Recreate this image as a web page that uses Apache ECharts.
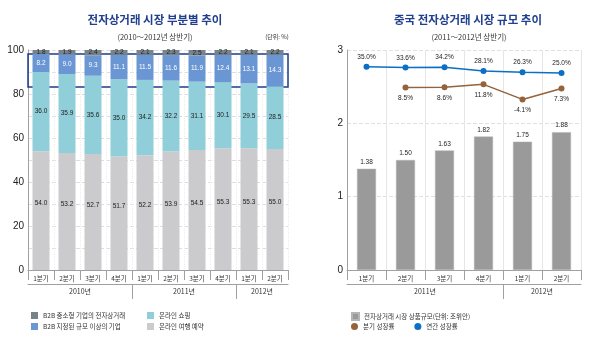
<!DOCTYPE html>
<html>
<head>
<meta charset="utf-8">
<script src="https://cdn.jsdelivr.net/npm/echarts@6/dist/echarts.min.js"></script>
<style>html,body{margin:0;padding:0;background:#fff}#c{width:600px;height:339px}</style>
</head>
<body>
<div id="c"></div>
<script>
// ---- Left chart data ----
const quarterLabelsL = ['1분기','2분기','3분기','4분기','1분기','2분기','3분기','4분기','1분기','2분기'];
const yearsL = ['2010년','2011년','2012년'];
const yearSpansL = [4, 4, 2];
const b2bSmall = [1.8, 1.9, 2.4, 2.2, 2.1, 2.3, 2.5, 2.2, 2.1, 2.2];
const b2bLarge = [8.2, 9.0, 9.3, 11.1, 11.5, 11.6, 11.9, 12.4, 13.1, 14.3];
const onlineShop = [36.0, 35.9, 35.6, 35.0, 34.2, 32.2, 31.1, 30.1, 29.5, 28.5];
const onlineTravel = [54.0, 53.2, 52.7, 51.7, 52.2, 53.9, 54.5, 55.3, 55.3, 55.0];
const highlightRange = [83.2, 98.2];

// ---- Right chart data ----
const quarterLabelsR = ['1분기','2분기','3분기','4분기','1분기','2분기'];
const yearsR = ['2011년','2012년'];
const yearSpansR = [4, 2];
const marketSize = [1.38, 1.50, 1.63, 1.82, 1.75, 1.88];
const quarterGrowth = [null, 8.5, 8.6, 11.8, -4.1, 7.3];
const annualGrowth = [35.0, 33.6, 34.2, 28.1, 26.3, 25.0];

const FONT = "'Noto Sans CJK KR', 'Noto Sans', sans-serif";
const NUMFONT = "'Liberation Sans Narrow', 'Liberation Sans', sans-serif";
const C_SMALL = '#76838a', C_LARGE = '#6b96d4', C_SHOP = '#90cfd9', C_TRAVEL = '#cbcbcd';
const C_BAR = '#9a9a9a', C_BLUE = '#0b6fc4', C_BROWN = '#94623b';

function yearAxis(gridIndex, years, spans) {
  const total = spans.reduce((a, b) => a + b, 0);
  const bounds = [], mids = [];
  let acc = 0;
  spans.forEach((s, i) => { mids.push(acc + s / 2); acc += s; if (i < spans.length - 1) bounds.push(acc); });
  return {
    type: 'value', gridIndex, min: 0, max: total, position: 'bottom', offset: 14,
    axisLine: { show: true, onZero: false, lineStyle: { color: '#a0a0a0', width: 1 } },
    axisTick: { show: true, customValues: bounds, length: 15, lineStyle: { color: '#a0a0a0' } },
    axisLabel: { customValues: mids, formatter: v => years[mids.indexOf(v)], fontSize: 7, color: '#333', margin: 4, fontFamily: FONT },
    splitLine: { show: false }
  };
}
function quarterAxis(gridIndex, labels, vertColor, vertType) {
  return {
    type: 'category', gridIndex, data: labels, position: 'bottom',
    axisLine: { show: true, onZero: false, lineStyle: { color: '#a0a0a0' } },
    axisTick: { show: true, interval: 0, length: 10, lineStyle: { color: '#a0a0a0' } },
    axisLabel: { interval: 0, fontSize: 6.5, color: '#333', margin: 5, fontFamily: FONT },
    splitLine: { show: true, interval: 0, lineStyle: { color: vertColor, type: vertType } }
  };
}
const segLabel = (color) => ({ show: true, position: 'inside', fontSize: 6.5, color, fontFamily: NUMFONT, formatter: p => p.value.toFixed(1) });

const chart = echarts.init(document.getElementById('c'), null, { renderer: 'canvas' });
chart.setOption({
  animation: false,
  backgroundColor: '#fff',
  title: [
    { text: '전자상거래 시장 부분별 추이', left: 150, top: 9, textAlign: 'center', textStyle: { fontSize: 11.5, fontWeight: 'bold', color: '#213f8f', fontFamily: FONT } },
    { text: '(2010～2012년 상반기)', left: 150, top: 28, textAlign: 'center', textStyle: { fontSize: 7.5, fontWeight: 'normal', color: '#333', fontFamily: FONT } },
    { text: '(단위: %)', left: 272, top: 29, textAlign: 'center', textStyle: { fontSize: 6, fontWeight: 'normal', color: '#333', fontFamily: FONT } },
    { text: '중국 전자상거래 시장 규모 추이', left: 463, top: 9, textAlign: 'center', textStyle: { fontSize: 11.5, fontWeight: 'bold', color: '#213f8f', fontFamily: FONT } },
    { text: '(2011～2012년 상반기)', left: 464, top: 28, textAlign: 'center', textStyle: { fontSize: 7.5, fontWeight: 'normal', color: '#333', fontFamily: FONT } }
  ],
  legend: [
    { left: 26, top: 307, orient: 'vertical', itemWidth: 7, itemHeight: 7, itemGap: 4, icon: 'rect',
      textStyle: { fontSize: 6.5, color: '#333', fontFamily: FONT }, data: ['B2B 중소형 기업의 전자상거래', 'B2B 지정된 규모 이상의 기업'] },
    { left: 142, top: 307, orient: 'vertical', itemWidth: 7, itemHeight: 7, itemGap: 4, icon: 'rect',
      textStyle: { fontSize: 6.5, color: '#333', fontFamily: FONT }, data: ['온라인 쇼핑', '온라인 여행 예약'] },
    { left: 346, top: 307, orient: 'horizontal', itemWidth: 7, itemHeight: 7, icon: 'rect',
      textStyle: { fontSize: 6.5, color: '#333', fontFamily: FONT }, data: ['전자상거래 시장 상품규모(단위: 조위안)'] },
    { left: 346, top: 318, orient: 'horizontal', itemWidth: 7, itemHeight: 7, itemGap: 20, icon: 'circle',
      textStyle: { fontSize: 6.5, color: '#333', fontFamily: FONT }, data: ['분기 성장률', '연간 성장률'] }
  ],
  grid: [
    { left: 28, right: 312, top: 50, bottom: 69 },
    { left: 347, right: 19, top: 50, bottom: 69 }
  ],
  xAxis: [
    quarterAxis(0, quarterLabelsL, '#ececec', 'dotted'),
    yearAxis(0, yearsL, yearSpansL),
    quarterAxis(1, quarterLabelsR, '#e6e6e6', 'solid'),
    yearAxis(1, yearsR, yearSpansR)
  ],
  yAxis: [
    { type: 'value', gridIndex: 0, min: 0, max: 100, interval: 10,
      axisLine: { show: true, lineStyle: { color: '#a0a0a0' } }, axisTick: { show: false },
      axisLabel: { formatter: v => (v % 20 === 0 ? String(v) : ''), fontSize: 10, color: '#222', margin: 4, fontFamily: NUMFONT },
      splitLine: { show: true, lineStyle: { color: '#dedede', type: 'dashed' } } },
    { type: 'value', gridIndex: 1, min: 0, max: 3, interval: 1,
      axisLine: { show: true, lineStyle: { color: '#a0a0a0' } }, axisTick: { show: false },
      axisLabel: { fontSize: 10, color: '#222', margin: 4, fontFamily: NUMFONT },
      splitLine: { show: true, lineStyle: { color: '#e0e0e0', type: 'dashed' } } },
    { type: 'value', gridIndex: 1, min: -288, max: 61.5, show: false, splitLine: { show: false } },
    { type: 'value', gridIndex: 1, min: -184, max: 48, show: false, splitLine: { show: false } }
  ],
  series: [
    { name: '온라인 여행 예약', type: 'bar', stack: 'L', xAxisIndex: 0, yAxisIndex: 0, barWidth: 17, data: onlineTravel,
      itemStyle: { color: C_TRAVEL }, label: Object.assign(segLabel('#222'), { offset: [0, -7] }) },
    { name: '온라인 쇼핑', type: 'bar', stack: 'L', xAxisIndex: 0, yAxisIndex: 0, barWidth: 17, data: onlineShop,
      itemStyle: { color: C_SHOP }, label: segLabel('#222') },
    { name: 'B2B 지정된 규모 이상의 기업', type: 'bar', stack: 'L', xAxisIndex: 0, yAxisIndex: 0, barWidth: 17, data: b2bLarge,
      itemStyle: { color: C_LARGE }, label: segLabel('#fff') },
    { name: 'B2B 중소형 기업의 전자상거래', type: 'bar', stack: 'L', xAxisIndex: 0, yAxisIndex: 0, barWidth: 17, data: b2bSmall,
      itemStyle: { color: C_SMALL }, label: segLabel('#222'),
      markArea: { silent: true, itemStyle: { color: 'rgba(0,0,0,0)', borderColor: '#1f3d8c', borderWidth: 1.5 },
        data: [[{ yAxis: highlightRange[0] }, { yAxis: highlightRange[1] }]] } },
    { name: '전자상거래 시장 상품규모(단위: 조위안)', type: 'bar', xAxisIndex: 2, yAxisIndex: 1, barWidth: 19, data: marketSize,
      itemStyle: { color: C_BAR, borderColor: '#b5b5b5', borderWidth: 0.5 },
      label: { show: true, position: 'top', distance: 3, fontSize: 6.5, color: '#222', fontFamily: NUMFONT, formatter: p => p.value.toFixed(2) } },
    { name: '분기 성장률', type: 'line', xAxisIndex: 2, yAxisIndex: 3, data: quarterGrowth, connectNulls: false,
      symbol: 'circle', symbolSize: 6, lineStyle: { color: C_BROWN, width: 1.5 }, itemStyle: { color: C_BROWN },
      label: { show: true, position: 'bottom', distance: 4, fontSize: 6.5, color: '#222', fontFamily: NUMFONT, formatter: p => p.value.toFixed(1) + '%' } },
    { name: '연간 성장률', type: 'line', xAxisIndex: 2, yAxisIndex: 2, data: annualGrowth,
      symbol: 'circle', symbolSize: 6, lineStyle: { color: C_BLUE, width: 1.5 }, itemStyle: { color: C_BLUE },
      label: { show: true, position: 'top', distance: 3, fontSize: 6.5, color: '#222', fontFamily: NUMFONT, formatter: p => p.value.toFixed(1) + '%' } }
  ]
});
</script>
</body>
</html>
